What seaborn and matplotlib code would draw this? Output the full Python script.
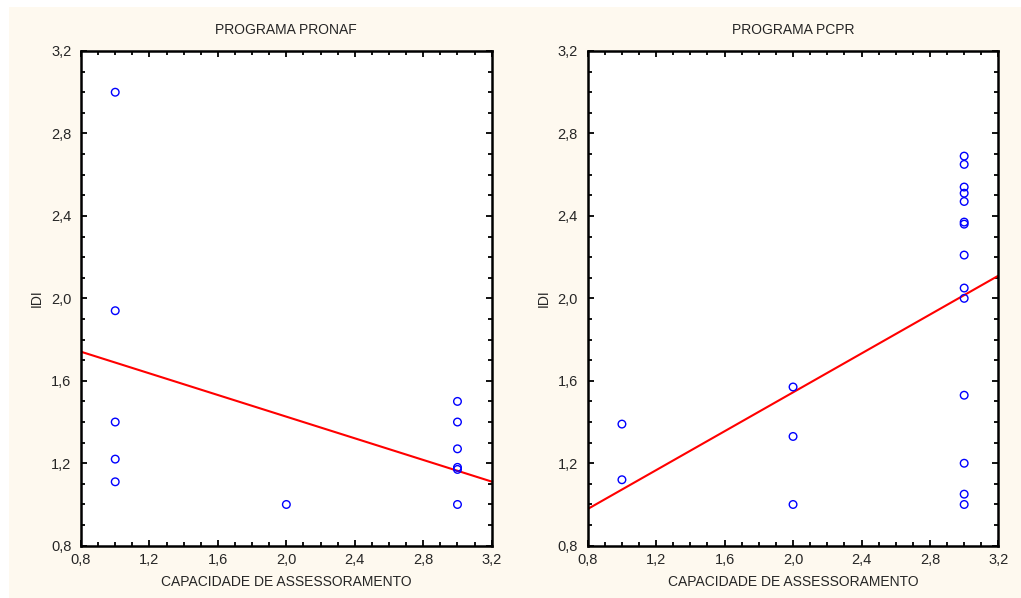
import numpy as np
import pandas as pd
import seaborn as sns
import matplotlib.pyplot as plt
from matplotlib.ticker import MultipleLocator, FuncFormatter
from matplotlib.patches import Rectangle

sns.set_theme(style="white")
plt.rcParams.update({
    "font.family": ["Liberation Sans", "DejaVu Sans"],
    "font.size": 10,
    "axes.linewidth": 1.8,
    "axes.edgecolor": "black",
})

# ---- data ----
pronaf_x = [1, 1, 1, 1, 1, 2, 3, 3, 3, 3, 3, 3]
pronaf_y = [3.00, 1.94, 1.40, 1.22, 1.11, 1.00, 1.50, 1.40, 1.27, 1.18, 1.17, 1.00]
pronaf_fit_x = [0.8, 3.2]
pronaf_fit_y = [1.741, 1.111]

pcpr_x = [1, 1, 2, 2, 2, 3, 3, 3, 3, 3, 3, 3, 3, 3, 3, 3, 3, 3, 3]
pcpr_y = [1.39, 1.12, 1.57, 1.33, 1.00,
          2.69, 2.65, 2.54, 2.51, 2.47, 2.37, 2.36, 2.21, 2.05, 2.00,
          1.53, 1.20, 1.05, 1.00]
pcpr_fit_x = [0.8, 3.2]
pcpr_fit_y = [0.978, 2.110]

titles = ["PROGRAMA PRONAF", "PROGRAMA PCPR"]
xlabel = "CAPACIDADE DE ASSESSORAMENTO"
ylabel = "IDI"

BG = "#FEF9EF"
PT = "#0000FF"
LINE = "#FF0000"

fig = plt.figure(figsize=(10.21, 5.98), dpi=100)
fig.patch.set_facecolor("white")
fig.patches.append(Rectangle((9 / 1021, 0), 1, 1 - 7 / 598, transform=fig.transFigure,
                             facecolor=BG, edgecolor="none", zorder=-10))

ax1 = fig.add_axes([81 / 1021, 1 - 545.7 / 598, 410.7 / 1021, 494.7 / 598])
ax2 = fig.add_axes([587.7 / 1021, 1 - 545.7 / 598, 410.7 / 1021, 494.7 / 598])

comma = FuncFormatter(lambda v, _: f"{v:.1f}".replace(".", ","))

panels = [
    (ax1, pronaf_x, pronaf_y, pronaf_fit_x, pronaf_fit_y, titles[0]),
    (ax2, pcpr_x, pcpr_y, pcpr_fit_x, pcpr_fit_y, titles[1]),
]
for ax, xs, ys, fx, fy, title in panels:
    df = pd.DataFrame({"x": xs, "y": ys})
    fit = pd.DataFrame({"x": fx, "y": fy})
    sns.lineplot(data=fit, x="x", y="y", ax=ax, color=LINE, linewidth=1.5, zorder=2)
    sns.scatterplot(data=df, x="x", y="y", ax=ax, marker="o", s=30,
                    facecolor="none", edgecolor=PT, linewidth=1.0, zorder=3)
    ax.set_xlim(0.8, 3.2)
    ax.set_ylim(0.8, 3.2)
    ax.xaxis.set_major_locator(MultipleLocator(0.4))
    ax.yaxis.set_major_locator(MultipleLocator(0.4))
    ax.xaxis.set_minor_locator(MultipleLocator(0.1))
    ax.yaxis.set_minor_locator(MultipleLocator(0.1))
    ax.xaxis.set_major_formatter(comma)
    ax.yaxis.set_major_formatter(comma)
    ax.tick_params(which="both", direction="in", top=True, right=True,
                   bottom=True, left=True, color="black", width=1.3)
    ax.tick_params(which="major", length=4, labelsize=10.5)
    ax.tick_params(axis="y", which="major", pad=7)
    ax.tick_params(axis="x", which="major", pad=5)
    ax.set_title(title, fontsize=10, pad=12)
    ax.set_xlabel(xlabel, fontsize=10, labelpad=6)
    ax.set_ylabel(ylabel, fontsize=10, labelpad=5)
    ax.tick_params(which="minor", length=3)
    ax.set_facecolor("white")

fig.savefig("out.png", dpi=100, facecolor=fig.get_facecolor())
